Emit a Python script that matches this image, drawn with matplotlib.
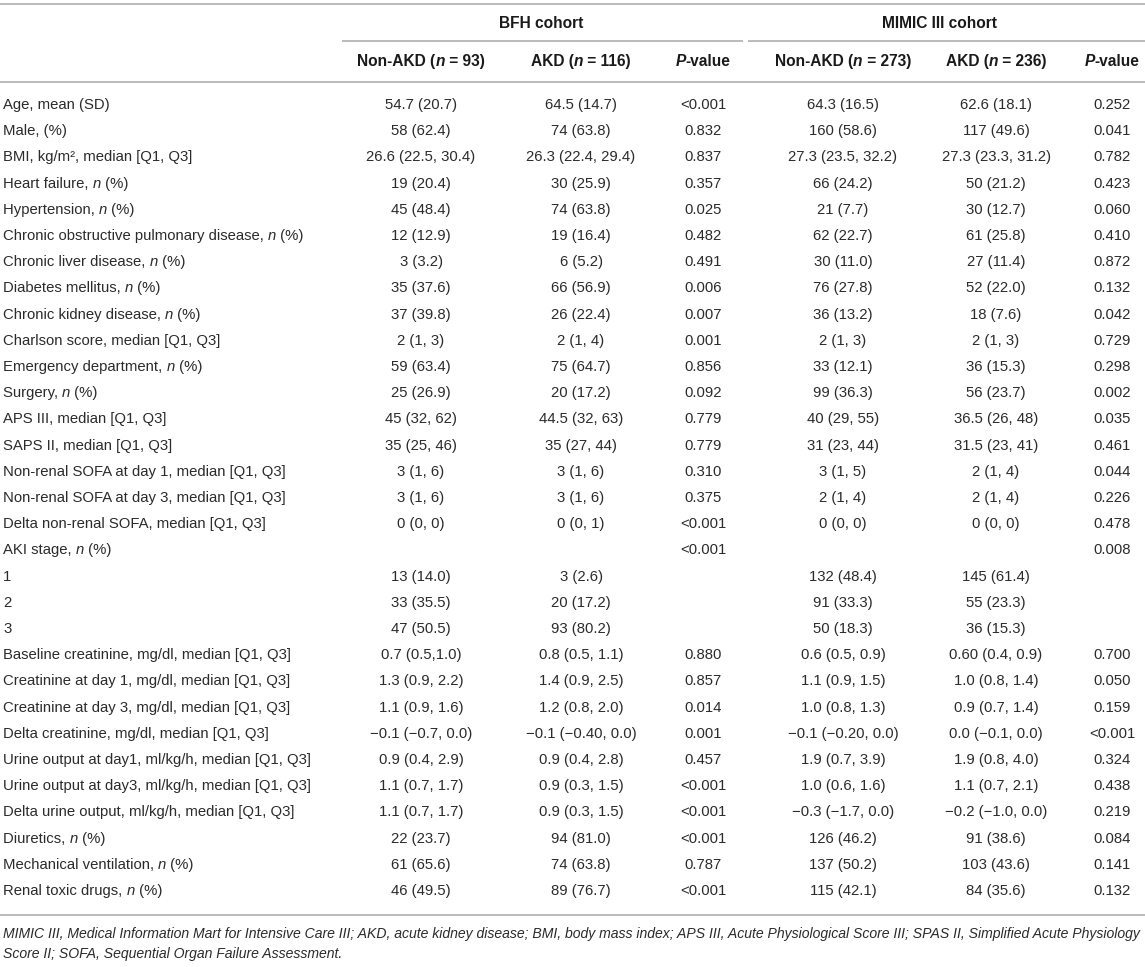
import re
import matplotlib
matplotlib.use("Agg")
import matplotlib.pyplot as plt

# ---------------- data ----------------
row_labels = [
    "Age, mean (SD)", "Male, (%)", "BMI, kg/m², median [Q1, Q3]",
    "Heart failure, n (%)", "Hypertension, n (%)",
    "Chronic obstructive pulmonary disease, n (%)", "Chronic liver disease, n (%)",
    "Diabetes mellitus, n (%)", "Chronic kidney disease, n (%)",
    "Charlson score, median [Q1, Q3]", "Emergency department, n (%)", "Surgery, n (%)",
    "APS III, median [Q1, Q3]", "SAPS II, median [Q1, Q3]",
    "Non-renal SOFA at day 1, median [Q1, Q3]", "Non-renal SOFA at day 3, median [Q1, Q3]",
    "Delta non-renal SOFA, median [Q1, Q3]", "AKI stage, n (%)", "1", "2", "3",
    "Baseline creatinine, mg/dl, median [Q1, Q3]", "Creatinine at day 1, mg/dl, median [Q1, Q3]",
    "Creatinine at day 3, mg/dl, median [Q1, Q3]", "Delta creatinine, mg/dl, median [Q1, Q3]",
    "Urine output at day1, ml/kg/h, median [Q1, Q3]", "Urine output at day3, ml/kg/h, median [Q1, Q3]",
    "Delta urine output, ml/kg/h, median [Q1, Q3]", "Diuretics, n (%)",
    "Mechanical ventilation, n (%)", "Renal toxic drugs, n (%)",
]

bfh_non = ["54.7 (20.7)", "58 (62.4)", "26.6 (22.5, 30.4)", "19 (20.4)", "45 (48.4)", "12 (12.9)",
           "3 (3.2)", "35 (37.6)", "37 (39.8)", "2 (1, 3)", "59 (63.4)", "25 (26.9)", "45 (32, 62)",
           "35 (25, 46)", "3 (1, 6)", "3 (1, 6)", "0 (0, 0)", "", "13 (14.0)", "33 (35.5)", "47 (50.5)",
           "0.7 (0.5,1.0)", "1.3 (0.9, 2.2)", "1.1 (0.9, 1.6)", "\u22120.1 (\u22120.7, 0.0)",
           "0.9 (0.4, 2.9)", "1.1 (0.7, 1.7)", "1.1 (0.7, 1.7)", "22 (23.7)", "61 (65.6)", "46 (49.5)"]
bfh_akd = ["64.5 (14.7)", "74 (63.8)", "26.3 (22.4, 29.4)", "30 (25.9)", "74 (63.8)", "19 (16.4)",
           "6 (5.2)", "66 (56.9)", "26 (22.4)", "2 (1, 4)", "75 (64.7)", "20 (17.2)", "44.5 (32, 63)",
           "35 (27, 44)", "3 (1, 6)", "3 (1, 6)", "0 (0, 1)", "", "3 (2.6)", "20 (17.2)", "93 (80.2)",
           "0.8 (0.5, 1.1)", "1.4 (0.9, 2.5)", "1.2 (0.8, 2.0)", "\u22120.1 (\u22120.40, 0.0)",
           "0.9 (0.4, 2.8)", "0.9 (0.3, 1.5)", "0.9 (0.3, 1.5)", "94 (81.0)", "74 (63.8)", "89 (76.7)"]
bfh_p = ["<0.001", "0.832", "0.837", "0.357", "0.025", "0.482", "0.491", "0.006", "0.007", "0.001",
         "0.856", "0.092", "0.779", "0.779", "0.310", "0.375", "<0.001", "<0.001", "", "", "",
         "0.880", "0.857", "0.014", "0.001", "0.457", "<0.001", "<0.001", "<0.001", "0.787", "<0.001"]
mimic_non = ["64.3 (16.5)", "160 (58.6)", "27.3 (23.5, 32.2)", "66 (24.2)", "21 (7.7)", "62 (22.7)",
             "30 (11.0)", "76 (27.8)", "36 (13.2)", "2 (1, 3)", "33 (12.1)", "99 (36.3)", "40 (29, 55)",
             "31 (23, 44)", "3 (1, 5)", "2 (1, 4)", "0 (0, 0)", "", "132 (48.4)", "91 (33.3)", "50 (18.3)",
             "0.6 (0.5, 0.9)", "1.1 (0.9, 1.5)", "1.0 (0.8, 1.3)", "\u22120.1 (\u22120.20, 0.0)",
             "1.9 (0.7, 3.9)", "1.0 (0.6, 1.6)", "\u22120.3 (\u22121.7, 0.0)", "126 (46.2)", "137 (50.2)",
             "115 (42.1)"]
mimic_akd = ["62.6 (18.1)", "117 (49.6)", "27.3 (23.3, 31.2)", "50 (21.2)", "30 (12.7)", "61 (25.8)",
             "27 (11.4)", "52 (22.0)", "18 (7.6)", "2 (1, 3)", "36 (15.3)", "56 (23.7)", "36.5 (26, 48)",
             "31.5 (23, 41)", "2 (1, 4)", "2 (1, 4)", "0 (0, 0)", "", "145 (61.4)", "55 (23.3)", "36 (15.3)",
             "0.60 (0.4, 0.9)", "1.0 (0.8, 1.4)", "0.9 (0.7, 1.4)", "0.0 (\u22120.1, 0.0)",
             "1.9 (0.8, 4.0)", "1.1 (0.7, 2.1)", "\u22120.2 (\u22121.0, 0.0)", "91 (38.6)", "103 (43.6)",
             "84 (35.6)"]
mimic_p = ["0.252", "0.041", "0.782", "0.423", "0.060", "0.410", "0.872", "0.132", "0.042", "0.729",
           "0.298", "0.002", "0.035", "0.461", "0.044", "0.226", "0.478", "0.008", "", "", "",
           "0.700", "0.050", "0.159", "<0.001", "0.324", "0.438", "0.219", "0.084", "0.141", "0.132"]

cohorts = ["BFH cohort", "MIMIC III cohort"]
col_headers = [[("Non-AKD (", "n"), ("n", "i"), (" = 93)", "n")],
               [("AKD (", "n"), ("n", "i"), (" = 116)", "n")],
               [("P", "i"), ("-value", "n")],
               [("Non-AKD (", "n"), ("n", "i"), (" = 273)", "n")],
               [("AKD (", "n"), ("n", "i"), (" = 236)", "n")],
               [("P", "i"), ("-value", "n")]]
footer = ["MIMIC III, Medical Information Mart for Intensive Care III; AKD, acute kidney disease; BMI, body mass index; "
          "APS III, Acute Physiological Score III; SPAS II, Simplified Acute Physiology",
          "Score II; SOFA, Sequential Organ Failure Assessment."]

# ---------------- layout ----------------
W, H = 1145, 967
FONT = "Liberation Sans"
FS = 10.7
FS_HDR = 11.2
FS_FOOT = 10.1
TXT = "#2b2b2b"
HDR = "#1a1a1a"
LINE = "#a8a8a8"
col_x = [421, 581, 703, 843, 996, 1112]
cohort_x = [541, 940]
row_y0, row_dy = 104, 26.2
base_off = 5

fig = plt.figure(figsize=(W / 100, H / 100), dpi=100)
ax = fig.add_axes([0, 0, 1, 1])
ax.set_xlim(0, W)
ax.set_ylim(H, 0)
ax.axis("off")
renderer = fig.canvas.get_renderer()


def measure(s, weight="normal", style="normal", size=FS):
    t = ax.text(0, 0, s + "|", fontsize=size, family=FONT, weight=weight, style=style)
    w = t.get_window_extent(renderer).width
    t.remove()
    t = ax.text(0, 0, "|", fontsize=size, family=FONT, weight=weight, style=style)
    w2 = t.get_window_extent(renderer).width
    t.remove()
    return w - w2


def rich(x, y, parts, ha="left", weight="normal", color=TXT, size=FS):
    full = "".join(s for s, _ in parts)
    total = measure(full, weight, size=size)
    x0 = x - total / 2 if ha == "center" else x
    prefix = ""
    for s, st in parts:
        off = measure(prefix, weight, size=size) if prefix else 0
        ax.text(x0 + off, y, s, fontsize=size, family=FONT, weight=weight,
                style="italic" if st == "i" else "normal", color=color,
                ha="left", va="baseline")
        prefix += s


def label_parts(s):
    parts = []
    pieces = re.split(r"(?<![A-Za-z])(n)(?![A-Za-z])", s)
    for i, p in enumerate(pieces):
        if p == "":
            continue
        parts.append((p, "i" if i % 2 == 1 else "n"))
    return parts


# rules
for x0, x1, yy in [(0, W, 4), (342, 743, 41), (748, W, 41), (0, W, 82), (0, W, 915)]:
    ax.plot([x0, x1], [yy, yy], color=LINE, lw=1.1, solid_capstyle="butt")

# header
for cx, name in zip(cohort_x, cohorts):
    ax.text(cx, 23 + base_off, name, fontsize=FS_HDR, family=FONT, weight="bold", color=HDR,
            ha="center", va="baseline")
for cx, parts in zip(col_x, col_headers):
    rich(cx, 61 + base_off, parts, ha="center", weight="bold", color=HDR, size=FS_HDR)

# body
columns = [bfh_non, bfh_akd, bfh_p, mimic_non, mimic_akd, mimic_p]
for i, lab in enumerate(row_labels):
    y = round(row_y0 + i * row_dy) + base_off
    rich(3, y, label_parts(lab))
    for cx, col in zip(col_x, columns):
        if col[i]:
            ax.text(cx, y, col[i], fontsize=FS, family=FONT, color=TXT, ha="center", va="baseline")

# footer
for j, line in enumerate(footer):
    ax.text(3, round(934 + j * 20.5) + 4, line, fontsize=FS_FOOT, family=FONT, style="italic", color=TXT,
            ha="left", va="baseline")

fig.savefig("out.png", dpi=100)
